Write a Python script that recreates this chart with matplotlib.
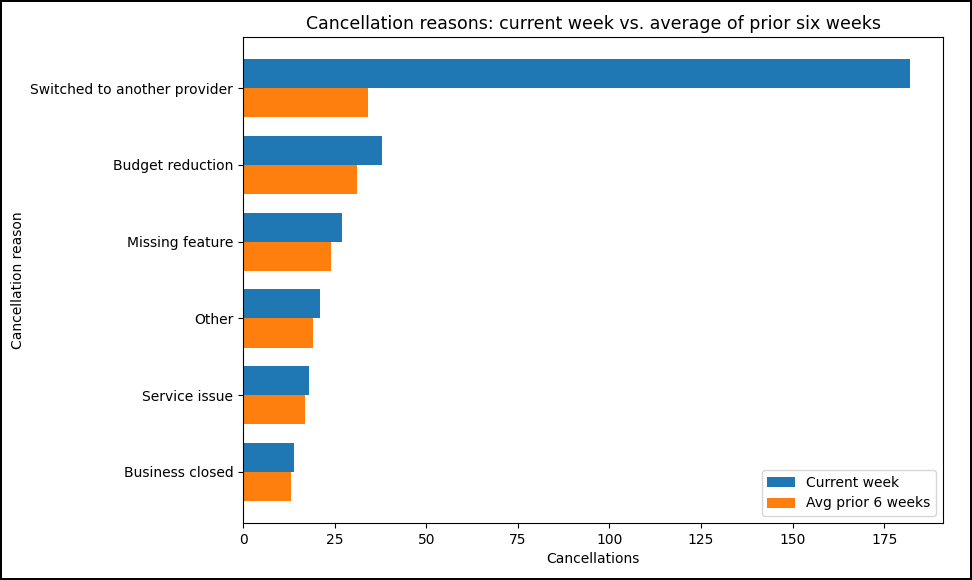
import matplotlib.pyplot as plt
import numpy as np

reasons = ["Switched to another provider", "Budget reduction", "Missing feature", "Other", "Service issue", "Business closed"]
current = [182, 38, 27, 21, 18, 14]
avg_prior = [34, 31, 24, 19, 17, 13]

fig = plt.figure(figsize=(9.72, 5.8), dpi=100, edgecolor='black', linewidth=1.5)
ax = fig.add_axes([243/972, 1-523/580, 700/972, 486/580])
y = np.arange(len(reasons))
h = 0.38
ax.barh(y - h/2, current, height=h, color='#1f77b4', label='Current week')
ax.barh(y + h/2, avg_prior, height=h, color='#ff7f0e', label='Avg prior 6 weeks')
ax.set_yticks(y)
ax.set_yticklabels(reasons)
ax.invert_yaxis()
ax.set_xlim(0, 191)
ax.set_xlabel('Cancellations')
ax.set_ylabel('Cancellation reason')
ax.set_title('Cancellation reasons: current week vs. average of prior six weeks', fontsize=12.5)
ax.legend(loc='lower right')
fig.savefig('out.png', dpi=100, edgecolor=fig.get_edgecolor())
